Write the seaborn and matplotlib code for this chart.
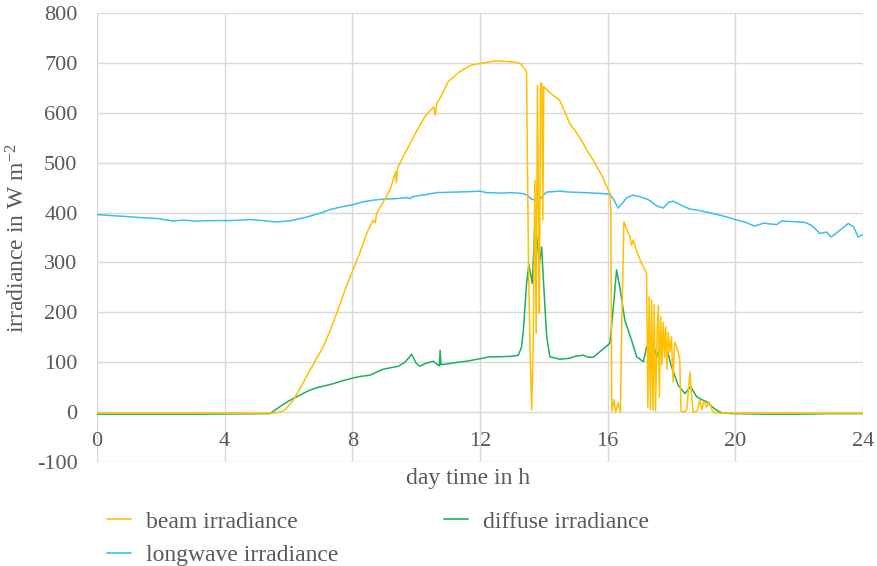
import pandas as pd
import matplotlib
matplotlib.use('Agg')
import matplotlib.pyplot as plt
import seaborn as sns
from matplotlib.lines import Line2D

# values (hour of day, W m-2)
beam_t = [0, 2, 4, 5.5, 5.75, 5.9, 6.15, 6.4, 6.67, 6.9, 7.09, 7.3, 7.51, 7.8, 8.06, 8.25,
          8.45, 8.65, 8.72, 8.76, 9.0, 9.18, 9.36, 9.38, 9.42, 9.7, 10.0, 10.3, 10.55, 10.6,
          10.65, 10.75, 11.0, 11.35, 11.7, 12.0, 12.3, 12.5, 12.8, 13.05, 13.25, 13.36, 13.46,
          13.48, 13.52, 13.57, 13.62, 13.67, 13.72, 13.76, 13.80, 13.84, 13.86, 13.90, 13.94,
          13.97, 14.0, 14.05, 14.2, 14.5, 14.82, 15.0, 15.18, 15.35, 15.55, 15.75, 15.85,
          15.95, 16.07, 16.1, 16.13, 16.2, 16.25, 16.33, 16.4, 16.45, 16.51, 16.6, 16.7,
          16.75, 16.8, 16.9, 17.05, 17.22, 17.26, 17.30, 17.34, 17.38, 17.42, 17.46, 17.50,
          17.55, 17.59, 17.62, 17.66, 17.70, 17.74, 17.78, 17.82, 17.86, 17.90, 17.95, 18.0,
          18.05, 18.10, 18.16, 18.22, 18.26, 18.30, 18.40, 18.48, 18.55, 18.58, 18.62, 18.68,
          18.80, 18.89, 18.95, 19.02, 19.10, 19.18, 19.30, 19.50, 22, 24]
beam_v = [-2, -2, -2, -2, 0, 5, 24, 52, 84, 110, 131, 163, 198, 250, 291, 322,
          358, 385, 380, 398, 425, 445, 482, 460, 490, 525, 562, 595, 612, 595,
          620, 629, 662, 682, 695, 699, 702, 704, 703, 702, 699, 692, 682,
          538, 300, 120, 5, 150, 465, 158, 655, 380, 198, 660, 657,
          385, 652, 649, 640, 625, 578, 562, 545, 525, 505, 482, 470,
          455, 439, 405, 2, 25, 0, 18, 0, 200, 381, 366, 351,
          335, 345, 325, 300, 278, 10, 231, 5, 225, 4, 215, 3,
          160, 214, 30, 191, 95, 180, 110, 171, 85, 160, 120, 151,
          60, 140, 131, 118, 105, 2, 0, 5, 60, 81, 40, 0,
          2, 24, 5, 22, 10, 20, 0, -2, -2, -2]

diffuse_t = [0, 3, 5.42, 5.73, 6.0, 6.26, 6.6, 6.88, 7.15, 7.4, 7.7, 8.06, 8.3, 8.55, 8.75,
             8.97, 9.2, 9.44, 9.65, 9.86, 10.0, 10.12, 10.3, 10.54, 10.65, 10.73, 10.75, 10.78,
             11.0, 11.3, 11.58, 12.0, 12.31, 12.63, 13.0, 13.2, 13.3, 13.36, 13.46, 13.53,
             13.58, 13.64, 13.72, 13.79, 13.86, 13.93, 14.0, 14.09, 14.19, 14.5, 14.8, 15.0,
             15.23, 15.4, 15.55, 15.81, 16.07, 16.18, 16.28, 16.38, 16.54, 16.75, 16.91, 17.12,
             17.22, 17.33, 17.45, 17.55, 17.69, 17.84, 18.0, 18.21, 18.42, 18.6, 18.79, 18.95,
             19.1, 19.25, 19.41, 19.6, 19.93, 21, 22, 23, 24]
diffuse_v = [-4, -4, -3, 11, 22, 31, 42, 49, 53, 57, 63, 69, 72, 74, 80,
             86, 89, 92, 100, 116, 98, 92, 98, 102, 96, 93, 124, 95,
             97, 100, 102, 107, 111, 111, 112, 114, 130, 164, 258, 295,
             279, 258, 378, 345, 298, 331, 251, 151, 111, 106, 108, 112,
             114, 110, 110, 124, 138, 211, 285, 251, 184, 144, 111, 101,
             131, 111, 131, 111, 144, 131, 91, 54, 37, 51, 31, 25,
             21, 12, 4, -2, -3, -4, -4, -3, -3]

longwave_t = [0, 0.7, 1.35, 1.9, 2.39, 2.7, 3.08, 3.6, 4.2, 4.79, 5.2, 5.63, 6.1, 6.57, 7.0,
              7.3, 7.7, 8.03, 8.3, 8.66, 9.0, 9.4, 9.7, 9.8, 9.9, 10.3, 10.64, 11.2, 11.7,
              12.0, 12.2, 12.7, 13.0, 13.36, 13.5, 13.6, 13.77, 13.9, 14.0, 14.09, 14.5, 14.8,
              15.3, 15.85, 16.07, 16.2, 16.33, 16.45, 16.6, 16.8, 17.0, 17.3, 17.55, 17.74,
              17.9, 18.05, 18.3, 18.58, 18.8, 19.1, 19.5, 19.8, 20.04, 20.3, 20.6, 20.75,
              20.9, 21.1, 21.3, 21.45, 21.8, 22.2, 22.4, 22.65, 22.86, 23.0, 23.15, 23.28,
              23.54, 23.7, 23.85, 24.0]
longwave_v = [396, 393, 390, 388, 383, 385, 383, 384, 384, 386, 384, 381, 384, 391, 399,
              406, 412, 416, 421, 425, 427, 428, 430, 428, 432, 436, 440, 441, 442,
              443, 440, 439, 440, 438, 434, 427, 425, 428, 436, 441, 443, 441,
              440, 438, 437, 425, 409, 418, 430, 435, 432, 425, 413, 409,
              420, 423, 415, 407, 405, 401, 395, 390, 385, 381, 373, 376,
              379, 377, 376, 383, 382, 380, 374, 358, 361, 351, 358, 365,
              378, 372, 351, 356]

colors = {'beam irradiance': '#FFC000',
          'diffuse irradiance': '#1DAF5E',
          'longwave irradiance': '#3DBDEE'}

sns.set_theme(style='whitegrid')
plt.rcParams['font.family'] = ['Liberation Serif', 'DejaVu Serif']
plt.rcParams['mathtext.fontset'] = 'custom'
plt.rcParams['mathtext.rm'] = 'Liberation Serif'
plt.rcParams['mathtext.it'] = 'Liberation Serif:italic'
plt.rcParams['axes.unicode_minus'] = False

text_color = '#595959'
grid_color = '#D9D9D9'

df = pd.concat([
    pd.DataFrame({'hour': longwave_t, 'value': longwave_v, 'series': 'longwave irradiance'}),
    pd.DataFrame({'hour': diffuse_t, 'value': diffuse_v, 'series': 'diffuse irradiance'}),
    pd.DataFrame({'hour': beam_t, 'value': beam_v, 'series': 'beam irradiance'}),
], ignore_index=True)

fig = plt.figure(figsize=(8.77, 5.66), dpi=100)
ax = fig.add_axes([0.1106, 0.1837, 0.8734, 0.7933])

sns.lineplot(data=df, x='hour', y='value', hue='series', palette=colors,
             hue_order=['longwave irradiance', 'diffuse irradiance', 'beam irradiance'],
             estimator=None, sort=False, linewidth=1.1, ax=ax, legend=False)

ax.set_xlim(0, 24)
ax.set_ylim(-100, 800)
ax.set_xticks(range(0, 25, 4))
ax.set_yticks(range(-100, 801, 100))
ax.grid(True, color=grid_color, linewidth=1.0)
for s in ax.spines.values():
    s.set_visible(False)
ax.spines['bottom'].set_position(('data', 0))
ax.tick_params(axis='x', length=0, pad=14, labelsize=16, labelcolor=text_color)
ax.tick_params(axis='y', length=0, pad=14, labelsize=16, labelcolor=text_color)

ax.set_xlabel('day time in h', fontsize=17, color=text_color, va='center')
ax.xaxis.set_label_coords(0.484, -0.036)
ax.set_ylabel(r'irradiance in W m$^{-2}$', fontsize=17, color=text_color, va='center')
ax.yaxis.set_label_coords(-0.103, 0.5)

handles = [Line2D([], [], color=colors[n], linewidth=1.2) for n in
           ['beam irradiance', 'longwave irradiance', 'diffuse irradiance']]
labels = ['beam irradiance', 'longwave irradiance', 'diffuse irradiance']
leg = fig.legend(handles, labels, ncol=2, loc='upper left',
                 bbox_to_anchor=(0.122, 0.097), frameon=False, fontsize=17,
                 handlelength=1.0, handletextpad=0.64, columnspacing=4.5,
                 labelspacing=0.5, borderaxespad=0, borderpad=0)
for t in leg.get_texts():
    t.set_color(text_color)

fig.savefig('out.png', dpi=100)
